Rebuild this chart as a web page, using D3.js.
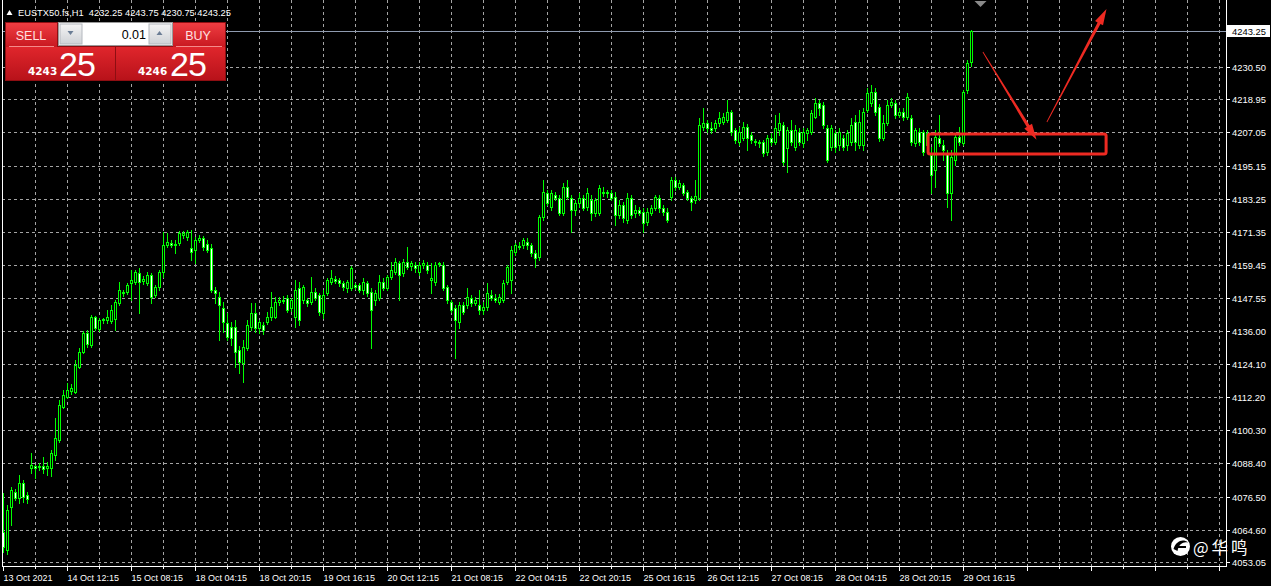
<!DOCTYPE html>
<html><head><meta charset="utf-8">
<script src="https://cdn.jsdelivr.net/npm/d3@7"></script>
<style>html,body{margin:0;padding:0;background:#000;overflow:hidden}svg{display:block}</style>
</head><body>
<svg id="c" width="1271" height="586"></svg>
<script>
// ---------------- DATA ----------------
const symbolTitle = "EUSTX50.fs,H1";
const lastOHLC = [4232.25, 4243.75, 4230.75, 4243.25];
const bidPrice = 4243.25;
const sellPrice = ["4243", "25"];
const buyPrice = ["4246", "25"];
const lotSize = "0.01";

const opens = [
4063.8,4057.3,4072.8,4078.1,4076.0,4081.4,4077.1,4086.7,4087.5,4087.1,
4087.5,4086.7,4086.7,4091.4,4096.8,4108.6,4112.2,4114.3,4114.0,4123.0,
4128.3,4135.1,4130.8,4140.9,4136.6,4139.8,4139.8,4139.4,4140.2,4145.9,
4149.8,4149.8,4153.1,4153.4,4156.7,4153.8,4153.1,4155.9,4148.8,4151.6,
4157.0,4166.7,4167.4,4166.7,4167.4,4170.3,4169.6,4165.6,4164.9,4168.5,
4169.2,4167.0,4165.6,4150.6,4148.0,4144.1,4138.7,4137.3,4137.3,4129.0,
4124.4,4129.8,4137.3,4142.3,4136.9,4138.0,4139.1,4140.9,4140.9,4146.3,
4147.0,4147.7,4144.1,4140.9,4151.3,4147.0,4147.0,4146.3,4149.8,4148.8,
4142.3,4149.5,4153.4,4154.5,4154.1,4153.1,4151.3,4151.3,4152.4,4152.4,
4150.6,4153.1,4149.8,4147.0,4147.7,4153.4,4151.3,4155.2,4157.0,4160.2,
4156.7,4160.6,4159.2,4159.5,4157.0,4159.5,4159.5,4154.1,4153.4,4159.9,
4159.5,4151.6,4146.3,4144.1,4139.1,4145.2,4145.2,4147.7,4145.9,4145.2,
4143.4,4144.5,4148.8,4147.7,4146.3,4147.0,4153.4,4154.1,4164.2,4166.3,
4166.7,4167.8,4166.7,4163.8,4162.4,4176.7,4185.3,4180.3,4184.6,4183.5,
4178.2,4187.5,4183.5,4179.2,4181.7,4183.5,4180.3,4182.8,4178.2,4178.2,
4185.7,4185.3,4185.3,4183.9,4177.4,4181.0,4175.6,4183.5,4178.2,4179.2,
4178.5,4174.9,4178.2,4180.0,4183.5,4180.0,4178.5,4183.9,4190.0,4187.5,
4188.2,4185.7,4183.5,4182.8,4183.5,4209.0,4210.4,4208.6,4208.6,4210.4,
4210.8,4211.5,4214.4,4207.9,4203.6,4205.0,4209.0,4206.1,4204.0,4203.6,
4203.6,4200.0,4205.0,4203.6,4207.9,4209.7,4201.5,4207.9,4201.8,4207.2,
4203.3,4206.8,4207.2,4212.6,4217.6,4216.9,4208.6,4201.8,4206.8,4202.5,
4205.0,4202.5,4203.6,4210.8,4202.5,4202.5,4215.1,4217.6,4221.5,4216.2,
4205.0,4210.4,4216.9,4217.6,4213.3,4214.4,4212.6,4212.2,4203.3,4207.2,
4207.2,4202.5,4199.0,4193.6,4205.0,4202.5,4199.7,4185.3,4197.2,4205.4,
4203.3,4222.3,4232.25];

const highs = [
4077.8,4073.5,4079.9,4079.2,4084.2,4082.4,4078.1,4092.1,4087.8,4088.5,
4090.7,4088.9,4093.2,4104.7,4111.1,4114.7,4117.2,4116.9,4125.5,4129.8,
4135.9,4136.2,4141.6,4141.2,4140.5,4140.5,4143.4,4145.2,4147.0,4153.4,
4150.6,4153.1,4157.7,4157.7,4158.4,4155.6,4157.0,4156.6,4152.4,4157.7,
4171.3,4171.0,4168.5,4168.5,4171.7,4171.7,4172.1,4172.1,4169.6,4170.3,
4169.9,4168.5,4167.0,4151.6,4149.8,4146.3,4142.3,4139.1,4139.8,4130.5,
4132.6,4139.8,4145.9,4145.9,4139.8,4139.1,4142.7,4149.8,4148.0,4148.0,
4148.4,4148.8,4147.7,4154.1,4153.4,4152.4,4147.7,4155.2,4151.3,4149.5,
4150.6,4154.9,4157.7,4155.6,4154.9,4153.8,4154.1,4159.2,4153.1,4153.1,
4154.9,4153.8,4151.3,4150.6,4155.9,4154.9,4155.9,4160.6,4162.0,4160.9,
4161.7,4166.0,4160.9,4160.6,4160.6,4161.3,4160.6,4160.2,4160.6,4160.6,
4160.6,4152.4,4147.0,4145.2,4146.3,4146.3,4151.3,4148.8,4148.0,4150.6,
4146.3,4153.1,4150.6,4149.1,4149.1,4154.1,4159.5,4166.3,4167.4,4167.8,
4169.2,4169.2,4167.4,4164.9,4177.4,4190.0,4186.4,4186.4,4185.7,4184.6,
4188.9,4190.0,4184.6,4182.8,4185.3,4184.6,4187.1,4184.6,4183.5,4188.2,
4187.5,4186.4,4186.4,4185.7,4182.8,4182.1,4185.3,4184.6,4181.0,4180.3,
4180.0,4180.0,4181.0,4184.6,4184.6,4181.0,4180.0,4191.1,4191.1,4190.0,
4188.9,4186.4,4184.3,4190.0,4212.2,4215.8,4211.5,4210.8,4211.5,4214.4,
4214.0,4218.7,4215.1,4208.6,4209.0,4210.8,4210.1,4207.2,4204.7,4204.3,
4204.3,4206.1,4206.8,4213.3,4214.0,4210.8,4209.0,4211.5,4209.7,4208.6,
4208.6,4208.6,4215.1,4219.4,4218.7,4218.0,4209.7,4209.7,4207.9,4208.6,
4206.1,4207.9,4212.2,4213.3,4215.1,4215.8,4223.0,4224.0,4223.0,4217.2,
4213.3,4218.7,4219.4,4218.7,4215.8,4215.8,4221.2,4213.3,4208.6,4208.6,
4207.9,4207.9,4201.8,4207.9,4213.3,4204.3,4200.7,4200.7,4206.1,4209.0,
4222.3,4233.0,4243.75];

const lows = [
4056.6,4055.9,4066.3,4075.3,4074.2,4074.6,4074.2,4085.0,4083.2,4086.0,
4085.0,4084.2,4083.9,4089.6,4096.1,4108.3,4111.8,4113.3,4113.6,4122.6,
4128.0,4130.1,4130.1,4136.2,4135.9,4138.7,4138.7,4138.7,4136.2,4145.2,
4148.4,4149.1,4147.0,4152.7,4142.3,4152.7,4152.4,4145.9,4148.0,4150.6,
4155.2,4166.0,4166.0,4163.8,4166.7,4169.2,4168.5,4161.3,4160.2,4167.8,
4164.9,4164.2,4149.8,4145.9,4132.6,4135.5,4132.6,4130.8,4122.9,4120.8,
4117.6,4129.0,4136.2,4135.5,4135.1,4134.8,4138.4,4139.8,4140.5,4145.2,
4145.9,4142.7,4143.0,4137.3,4138.0,4145.9,4144.8,4145.5,4147.0,4141.6,
4140.5,4148.8,4152.7,4153.1,4152.0,4150.6,4149.8,4150.6,4150.9,4149.8,
4149.1,4148.4,4129.8,4145.2,4147.0,4150.6,4150.6,4154.5,4156.3,4147.0,
4155.6,4158.1,4157.7,4157.0,4155.9,4158.4,4156.7,4149.5,4152.4,4159.2,
4150.6,4145.9,4142.7,4126.2,4136.9,4142.0,4144.1,4144.8,4145.2,4142.0,
4142.0,4143.4,4147.0,4146.3,4145.5,4146.3,4152.7,4149.5,4163.1,4165.3,
4165.6,4165.3,4162.7,4158.8,4161.3,4175.6,4181.0,4179.2,4182.8,4177.4,
4177.4,4183.2,4171.3,4177.4,4180.3,4179.2,4179.2,4175.6,4177.1,4177.4,
4184.3,4183.9,4182.8,4173.9,4176.4,4174.9,4174.6,4176.4,4176.7,4177.4,
4171.3,4173.9,4177.4,4179.2,4178.5,4177.4,4174.9,4182.8,4186.4,4186.8,
4184.6,4182.8,4179.2,4181.7,4182.8,4207.9,4207.2,4206.8,4207.6,4209.4,
4210.1,4210.8,4206.1,4203.3,4202.5,4204.3,4200.7,4203.3,4202.5,4201.8,
4198.6,4199.0,4202.5,4202.9,4206.1,4195.4,4192.9,4202.5,4200.7,4202.5,
4201.8,4204.3,4206.5,4212.2,4213.3,4208.6,4196.4,4200.7,4200.0,4200.7,
4200.7,4200.7,4202.5,4200.7,4201.5,4200.7,4214.4,4216.5,4213.3,4204.0,
4204.3,4209.7,4216.2,4212.2,4212.6,4211.5,4211.9,4202.5,4202.2,4202.5,
4199.0,4201.8,4185.3,4187.5,4202.2,4197.2,4180.3,4175.6,4195.4,4202.5,
4202.5,4221.2,4230.75];

const closes = [
4058.4,4071.7,4078.9,4076.0,4081.4,4076.3,4075.6,4087.8,4086.7,4087.5,
4086.4,4087.5,4092.1,4097.5,4109.3,4112.9,4114.7,4115.4,4123.7,4128.3,
4135.1,4131.2,4140.9,4136.9,4139.8,4140.2,4140.9,4143.4,4146.3,4150.6,
4149.6,4152.4,4154.1,4157.0,4153.4,4154.5,4155.9,4148.0,4151.6,4157.0,
4166.7,4167.8,4166.7,4167.0,4171.0,4171.0,4171.3,4164.2,4168.5,4169.2,
4166.0,4164.9,4150.6,4149.5,4145.2,4139.1,4133.7,4133.4,4128.3,4124.7,
4130.1,4138.0,4142.3,4136.9,4139.1,4136.2,4140.9,4144.5,4146.3,4147.0,
4146.8,4143.4,4147.0,4150.6,4139.8,4151.6,4145.9,4149.8,4147.7,4142.7,
4148.8,4154.1,4154.9,4153.8,4153.1,4151.6,4153.4,4158.4,4151.6,4150.6,
4153.4,4149.5,4143.4,4149.5,4153.4,4151.3,4155.2,4157.7,4160.6,4155.9,
4160.6,4158.8,4160.2,4158.4,4159.5,4160.2,4157.7,4154.9,4159.5,4160.2,
4151.3,4147.0,4143.4,4139.8,4145.2,4142.7,4148.0,4145.9,4147.0,4143.4,
4144.5,4149.5,4147.7,4147.0,4148.0,4153.1,4158.8,4164.9,4166.7,4166.1,
4168.5,4166.7,4163.8,4162.0,4176.7,4185.7,4181.7,4185.3,4183.5,4178.2,
4187.5,4183.9,4179.2,4181.7,4183.5,4180.0,4185.3,4178.2,4182.8,4187.1,
4185.3,4185.7,4183.5,4177.4,4181.0,4176.4,4183.5,4177.4,4179.2,4178.2,
4174.6,4178.5,4180.0,4183.9,4180.0,4178.5,4175.6,4190.0,4187.5,4188.9,
4185.3,4183.5,4182.1,4184.3,4209.7,4210.4,4208.6,4207.9,4210.4,4212.2,
4212.6,4214.4,4207.2,4204.3,4207.2,4209.0,4205.0,4204.3,4203.6,4203.3,
4199.7,4205.0,4203.6,4208.6,4210.4,4196.4,4207.9,4203.6,4207.9,4203.6,
4207.2,4207.9,4214.0,4217.6,4215.8,4209.7,4197.2,4208.6,4201.8,4207.2,
4201.8,4206.8,4209.7,4203.6,4210.8,4214.4,4221.2,4221.5,4214.4,4205.0,
4210.4,4216.9,4218.0,4213.3,4214.4,4212.6,4219.7,4203.6,4207.9,4203.6,
4200.0,4206.8,4191.8,4205.4,4203.3,4200.7,4185.3,4198.2,4205.4,4203.6,
4221.5,4232.0,4243.25];

// time labels, one every 16 H1 bars
const timeLabels = ["13 Oct 2021","14 Oct 12:15","15 Oct 08:15","18 Oct 04:15","18 Oct 20:15",
  "19 Oct 16:15","20 Oct 12:15","21 Oct 08:15","22 Oct 04:15","22 Oct 20:15","25 Oct 16:15",
  "26 Oct 12:15","27 Oct 08:15","28 Oct 04:15","28 Oct 20:15","29 Oct 16:15"];
const labelEvery = 16;
const gridEvery = 8;
const priceTicks = [4230.50,4218.95,4207.05,4195.15,4183.25,4171.35,4159.45,4147.55,
  4136.00,4124.10,4112.20,4100.30,4088.40,4076.50,4064.60,4053.05];

// annotations in data space (bar index, price)
const annoBox = [[231.2, 4206.5],[275.7, 4199.3]];
const annoArrows = [
  [[244.9, 4235.9],[258.3, 4204.4]],
  [[260.9, 4210.8],[275.8, 4251.3]]
];

// ---------------- CHART ----------------
const W = 1271, H = 586;
const plotL = 2, plotR = 1226, plotB = 566;
const svg = d3.select("#c");
svg.append("rect").attr("width",W).attr("height",H).attr("fill","#000");

const x = d3.scaleLinear().domain([0, 305]).range([3.3, 1223.3]);
const y = d3.scaleLinear().domain([4051.61, 4254.52]).range([plotB, 0]);

const bars = opens.map((o,i)=>({i, o, h:highs[i], l:lows[i], c:closes[i]}));
const nSlots = Math.floor(x.invert(plotR));

// grid
const grid = svg.append("g").attr("stroke","#a4a4a4").attr("stroke-dasharray","3,3").attr("stroke-width",1);
for (let k = gridEvery; k <= nSlots; k += gridEvery) {
  const gx = Math.round(x(k)) + 0.5;
  if (gx >= plotR - 1) break;
  grid.append("line").attr("x1",gx).attr("x2",gx).attr("y1",0).attr("y2",plotB);
}
priceTicks.forEach(v=>{
  const gy = Math.round(y(v)) + 0.5;
  grid.append("line").attr("x1",plotL).attr("x2",plotR).attr("y1",gy).attr("y2",gy);
});

// bid line
const bidY = Math.round(y(bidPrice)) + 0.5;
svg.append("line").attr("x1",plotL).attr("x2",plotR).attr("y1",bidY).attr("y2",bidY)
  .attr("stroke","#8f9bb0").attr("stroke-width",1);

// candles
const cg = svg.append("g");
bars.forEach(d=>{
  const cx = Math.round(x(d.i)) + 0.5;
  cg.append("line").attr("x1",cx).attr("x2",cx)
    .attr("y1",Math.round(y(d.h))).attr("y2",Math.round(y(d.l))+1)
    .attr("stroke","#00ff00").attr("stroke-width",1);
  const top = Math.round(y(Math.max(d.o,d.c)));
  const bot = Math.round(y(Math.min(d.o,d.c)));
  const bull = d.c >= d.o;
  cg.append("rect").attr("x",cx-1).attr("y",top+0.5)
    .attr("width",2).attr("height",Math.max(1,bot-top))
    .attr("fill", bull ? "#000" : "#ffffff")
    .attr("stroke","#00ff00").attr("stroke-width",1);
});

// borders
const bord = svg.append("g").attr("stroke","#ffffff").attr("stroke-width",1);
bord.append("line").attr("x1",plotL+0.5).attr("x2",plotL+0.5).attr("y1",0).attr("y2",plotB+1);
bord.append("line").attr("x1",plotR+0.5).attr("x2",plotR+0.5).attr("y1",0).attr("y2",plotB+1);
bord.append("line").attr("x1",plotL).attr("x2",plotR+1).attr("y1",plotB+0.5).attr("y2",plotB+0.5);

// x ticks and labels
for (let k = 0; k <= nSlots; k += gridEvery) {
  const gx = Math.round(x(k)) + 0.5;
  if (gx > plotR) break;
  const isLab = k % labelEvery === 0;
  bord.append("line").attr("x1",gx).attr("x2",gx).attr("y1",plotB).attr("y2",plotB + (isLab?5:3));
}
svg.append("g").selectAll("text").data(timeLabels).join("text")
  .attr("x",(d,j)=>Math.round(x(j*labelEvery)) + 0.5)
  .attr("y",581)
  .attr("font-family","'Liberation Sans', Arial, sans-serif")
  .attr("font-size","9px").attr("fill","#ffffff")
  .text(d=>d);

// y ticks and labels
priceTicks.forEach(v=>{
  const gy = Math.round(y(v)) + 0.5;
  bord.append("line").attr("x1",plotR).attr("x2",plotR+4).attr("y1",gy).attr("y2",gy);
});
svg.append("g").selectAll("text").data(priceTicks).join("text")
  .attr("x",1232).attr("y",v=>Math.round(y(v)) + 4)
  .attr("font-family","'Liberation Sans', Arial, sans-serif")
  .attr("font-size","9.4px").attr("fill","#ffffff")
  .text(v=>d3.format(".2f")(v));

// bid price label box
svg.append("rect").attr("x",plotR+1).attr("y",bidY-6.5).attr("width",43).attr("height",12).attr("fill","#ffffff");
svg.append("text").attr("x",1232).attr("y",bidY+3.5)
  .attr("font-family","'Liberation Sans', Arial, sans-serif")
  .attr("font-size","9.4px").attr("fill","#000")
  .text(d3.format(".2f")(bidPrice));

// chart shift marker
const shX = x(244.3);
svg.append("path").attr("d",`M${shX-6},1 L${shX+6},1 L${shX},7 Z`).attr("fill","#8a8a8a");

// ---------------- TITLE ----------------
svg.append("path").attr("d","M6.5,15 L12.5,15 L9.5,10 Z").attr("fill","#ffffff");
svg.append("text").attr("x",18).attr("y",16)
  .attr("font-family","'Liberation Sans', Arial, sans-serif")
  .attr("font-size","9.3px").attr("fill","#ffffff").style("white-space","pre")
  .text(symbolTitle + "  " + lastOHLC.map(v=>d3.format(".2f")(v)).join(" "));

// ---------------- ONE-CLICK PANEL ----------------
const defs = svg.append("defs");
const rg = defs.append("linearGradient").attr("id","redg").attr("x1",0).attr("y1",0).attr("x2",0).attr("y2",1);
rg.append("stop").attr("offset","0%").attr("stop-color","#ef3d42");
rg.append("stop").attr("offset","100%").attr("stop-color","#c81820");
const rg2 = defs.append("linearGradient").attr("id","redg2").attr("x1",0).attr("y1",0).attr("x2",0).attr("y2",1);
rg2.append("stop").attr("offset","0%").attr("stop-color","#e0262c");
rg2.append("stop").attr("offset","100%").attr("stop-color","#b8121a");
const gg = defs.append("linearGradient").attr("id","grayg").attr("x1",0).attr("y1",0).attr("x2",0).attr("y2",1);
gg.append("stop").attr("offset","0%").attr("stop-color","#f4f4f4");
gg.append("stop").attr("offset","100%").attr("stop-color","#cfd2d6");

const P = svg.append("g");
P.append("rect").attr("x",5).attr("y",22).attr("width",221).attr("height",59).attr("fill","#8e0e12");
P.append("rect").attr("x",6).attr("y",23).attr("width",51).attr("height",24).attr("fill","url(#redg)");
P.append("rect").attr("x",173).attr("y",23).attr("width",52).attr("height",24).attr("fill","url(#redg)");
P.append("rect").attr("x",6).attr("y",47).attr("width",109).attr("height",33).attr("fill","url(#redg2)");
P.append("rect").attr("x",116).attr("y",47).attr("width",109).attr("height",33).attr("fill","url(#redg2)");
P.append("line").attr("x1",9).attr("x2",54).attr("y1",46.5).attr("y2",46.5).attr("stroke","#f58a8a");
P.append("line").attr("x1",176).attr("x2",222).attr("y1",46.5).attr("y2",46.5).attr("stroke","#f58a8a");
// lot box
P.append("rect").attr("x",58.5).attr("y",22.5).attr("width",114).attr("height",23).attr("fill","#ffffff").attr("stroke","#9a9a9a");
P.append("rect").attr("x",60).attr("y",24).attr("width",22).attr("height",20).attr("fill","url(#grayg)").attr("stroke","#b4b8be");
P.append("rect").attr("x",149).attr("y",24).attr("width",22).attr("height",20).attr("fill","url(#grayg)").attr("stroke","#b4b8be");
P.append("path").attr("d","M67.5,31 L73.5,31 L70.5,35 Z").attr("fill","#6b7d95");
P.append("path").attr("d","M156.5,35 L162.5,35 L159.5,31 Z").attr("fill","#6b7d95");
P.append("text").attr("x",146).attr("y",38.5).attr("text-anchor","end")
  .attr("font-family","'Liberation Sans', Arial, sans-serif").attr("font-size","12.5px").attr("fill","#000").text(lotSize);
const ff = "'Liberation Sans', Arial, sans-serif";
P.append("text").attr("x",31).attr("y",39.5).attr("text-anchor","middle").attr("font-family",ff)
  .attr("font-size","12.5px").attr("fill","#ffe0e0").text("SELL");
P.append("text").attr("x",198).attr("y",39.5).attr("text-anchor","middle").attr("font-family",ff)
  .attr("font-size","12.5px").attr("fill","#ffe0e0").text("BUY");
P.append("text").attr("x",28).attr("y",75).attr("font-family","'DejaVu Sans', sans-serif").attr("font-weight","bold")
  .attr("font-size","10.5px").attr("fill","#ffffff").text(sellPrice[0]);
P.append("text").attr("x",59).attr("y",75.5).attr("font-family",ff)
  .attr("font-size","34px").attr("letter-spacing","-1px").attr("fill","#ffffff").text(sellPrice[1]);
P.append("text").attr("x",138).attr("y",75).attr("font-family","'DejaVu Sans', sans-serif").attr("font-weight","bold")
  .attr("font-size","10.5px").attr("fill","#ffffff").text(buyPrice[0]);
P.append("text").attr("x",170).attr("y",75.5).attr("font-family",ff)
  .attr("font-size","34px").attr("letter-spacing","-1px").attr("fill","#ffffff").text(buyPrice[1]);

// ---------------- ANNOTATIONS ----------------
const red = "#ee2a22";
const bx0 = x(annoBox[0][0]), by0 = y(annoBox[0][1]), bx1 = x(annoBox[1][0]), by1 = y(annoBox[1][1]);
svg.append("rect").attr("x",bx0).attr("y",by0).attr("width",bx1-bx0).attr("height",by1-by0)
  .attr("rx",2).attr("fill","none").attr("stroke",red).attr("stroke-width",3);

function arrowPts(x0,y0,x1,y1,w0,w1,hl,hw){
  const dx=x1-x0, dy=y1-y0, L=Math.hypot(dx,dy), ux=dx/L, uy=dy/L, nx=-uy, ny=ux;
  const bx=x1-ux*hl, by=y1-uy*hl;
  return [[x0+nx*w0,y0+ny*w0],[bx+nx*w1,by+ny*w1],[bx+nx*hw,by+ny*hw],[x1,y1],
          [bx-nx*hw,by-ny*hw],[bx-nx*w1,by-ny*w1],[x0-nx*w0,y0-ny*w0]];
}
annoArrows.forEach(a=>{
  const pts = arrowPts(x(a[0][0]), y(a[0][1]), x(a[1][0]), y(a[1][1]), 0.4, 1.6, 16, 4.5);
  svg.append("path").attr("d", d3.line()(pts) + "Z").attr("fill",red);
});

// ---------------- WATERMARK ----------------
svg.append("circle").attr("cx",1180.5).attr("cy",546.5).attr("r",9.5).attr("fill","#ffffff");
svg.append("path").attr("d","M1173.5,549 C1176,541 1183,538.5 1188,542.5 C1183,541.5 1179,544 1177.5,551 Z").attr("fill","#000");
svg.append("path").attr("d","M1176,547 L1186,547").attr("stroke","#000").attr("stroke-width",2);
svg.append("text").attr("x",1193).attr("y",553.8)
  .attr("font-family","'Noto Sans CJK SC', sans-serif").attr("font-size","16.5px")
  .attr("letter-spacing","3px").attr("fill","#ffffff")
  .text("@华鸣");
</script>
</body></html>
